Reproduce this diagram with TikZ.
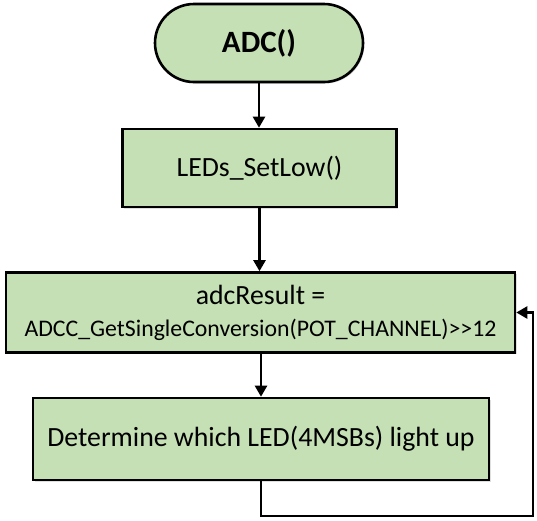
\documentclass[tikz,border=0pt]{standalone}
\usepackage{fontspec}
\setmainfont{Carlito}
\usetikzlibrary{arrows.meta,shadows}
\definecolor{boxgreen}{HTML}{C5E0B4}
\begin{document}
\begin{tikzpicture}[x=1pt,y=-1pt,
  proc/.style={draw=black,line width=2.6pt,fill=boxgreen,inner sep=0pt,align=center,
    drop shadow={shadow xshift=1.5pt,shadow yshift=-1.5pt,opacity=0.25}},
  txt/.style={font=\fontsize{27.8}{32}\selectfont},
  arr/.style={line width=2.4pt,-{Triangle[length=11pt,width=12pt]}}]
\useasboundingbox (0,0) rectangle (537,520);
\node[proc, rounded corners=39pt, minimum width=208pt, minimum height=78pt,
  font=\bfseries\fontsize{31}{36}\selectfont] (start) at (259,43) {ADC()};
\node[proc, txt, minimum width=274pt, minimum height=78pt] (setlow) at (259.5,168) {LEDs\_SetLow()};
\node[proc, txt, minimum width=509pt, minimum height=80pt] (adc) at (260.5,312.5)
  {adcResult =\\[0pt]{\fontsize{23.8}{28}\selectfont ADCC\_GetSingleConversion(POT\_CHANNEL)>{}>12}};
\node[proc, txt, minimum width=456pt, minimum height=82pt] (led) at (261,439) {Determine which LED(4MSBs) light up};
\coordinate (corner) at (533,516);
\draw[arr] (start) -- (start |- setlow.north);
\draw[arr] (setlow) -- (setlow |- adc.north);
\draw[arr] (adc.south -| led.north) -- (led);
\draw[arr] (led.south) |- (corner) -- (corner |- adc.east) -- (adc.east);
\end{tikzpicture}
\end{document}
